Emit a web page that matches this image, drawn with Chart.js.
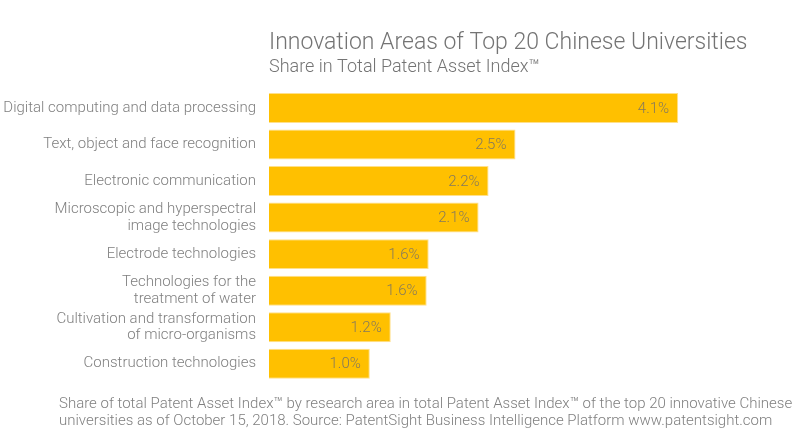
<!DOCTYPE html>
<html>
<head>
<meta charset="utf-8">
<script src="https://cdn.jsdelivr.net/npm/chart.js@4"></script>
<style>
  html, body { margin: 0; padding: 0; background: #ffffff; }
  #wrap { width: 800px; height: 440px; position: relative; }
</style>
</head>
<body>
<div id="wrap"><canvas id="c" width="800" height="440"></canvas></div>
<script>
const categories = [
  "Digital computing and data processing",
  "Text, object and face recognition",
  "Electronic communication",
  ["Microscopic and hyperspectral", "image technologies"],
  "Electrode technologies",
  ["Technologies for the", "treatment of water"],
  ["Cultivation and transformation", "of micro-organisms"],
  "Construction technologies"
];
const shareValues = [4.1, 2.47, 2.2, 2.1, 1.6, 1.58, 1.22, 1.01];
const titleText = "Innovation Areas of Top 20 Chinese Universities";
const subtitleText = "Share in Total Patent Asset Index\u2122";
const footerLines = [
  "Share of total Patent Asset Index\u2122 by research area in total Patent Asset Index\u2122 of the top 20 innovative Chinese",
  "universities as of October 15, 2018. Source: PatentSight Business Intelligence Platform www.patentsight.com"
];

const GREY = "#7f7f7f";
const FONT = "Roboto, 'Liberation Sans', sans-serif";

const valueLabels = {
  id: "valueLabels",
  afterDatasetsDraw(chart) {
    const ctx = chart.ctx;
    const meta = chart.getDatasetMeta(0);
    ctx.save();
    ctx.font = "300 15px " + FONT;
    ctx.fillStyle = "#857a5c";
    ctx.textAlign = "right";
    ctx.textBaseline = "middle";
    meta.data.forEach((bar, i) => {
      const v = chart.data.datasets[0].data[i];
      ctx.fillText(v.toFixed(1) + "%", bar.x - 9, bar.y + 1);
    });
    ctx.restore();
  }
};

const footer = {
  id: "footer",
  afterDraw(chart) {
    const ctx = chart.ctx;
    ctx.save();
    ctx.font = "300 15px " + FONT;
    ctx.fillStyle = GREY;
    ctx.textAlign = "left";
    ctx.textBaseline = "alphabetic";
    ctx.fillText(footerLines[0], 59, 408);
    ctx.fillText(footerLines[1], 59, 425);
    ctx.restore();
  }
};

new Chart(document.getElementById("c"), {
  type: "bar",
  data: {
    labels: categories,
    datasets: [{
      data: shareValues,
      backgroundColor: "#FFC000",
      borderColor: "#FFE08A",
      borderWidth: 1,
      barPercentage: 0.82,
      categoryPercentage: 1.0
    }]
  },
  options: {
    indexAxis: "y",
    responsive: false,
    animation: false,
    layout: { padding: { left: 0, right: 32, top: 0, bottom: 58 } },
    plugins: {
      legend: { display: false },
      tooltip: { enabled: false },
      title: {
        display: true,
        text: titleText,
        align: "start",
        fullSize: false,
        color: "#747474",
        font: { family: FONT, size: 23, weight: "300", lineHeight: 1.2 },
        padding: { top: 29.5, bottom: 0 }
      },
      subtitle: {
        display: true,
        text: subtitleText,
        align: "start",
        fullSize: false,
        color: "#747474",
        font: { family: FONT, size: 18, weight: "300", lineHeight: 1.2 },
        padding: { top: 0, bottom: 11 }
      }
    },
    scales: {
      x: {
        display: false,
        min: 0,
        max: 5
      },
      y: {
        afterFit(scale) { scale.width = 269; },
        grid: { display: false, drawTicks: false },
        border: { display: false },
        ticks: {
          autoSkip: false,
          padding: 13,
          color: GREY,
          font: { family: FONT, size: 15, weight: "300", lineHeight: 1.12 }
        }
      }
    }
  },
  plugins: [valueLabels, footer]
});
</script>
</body>
</html>
